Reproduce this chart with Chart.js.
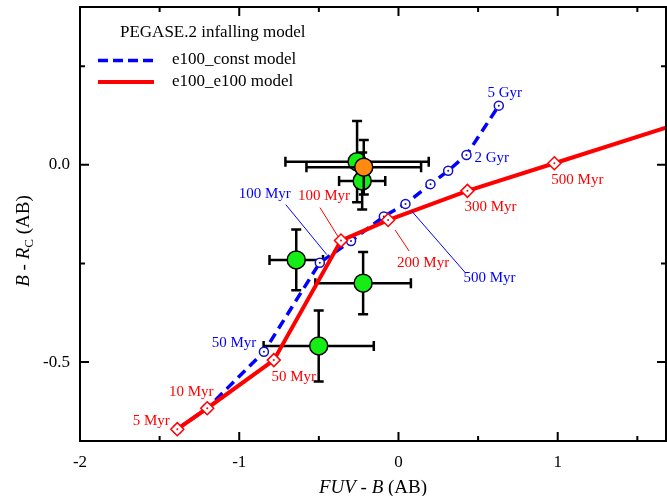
<!DOCTYPE html>
<html>
<head>
<meta charset="utf-8">
<script src="https://cdn.jsdelivr.net/npm/chart.js@4"></script>
<style>
  html, body { margin: 0; padding: 0; background: #fff; }
  #wrap { width: 667px; height: 496px; position: relative; }
</style>
</head>
<body>
<div id="wrap"><canvas id="c"></canvas></div>
<script>
// e100_const model track (blue dashed), 5 Myr ... 5 Gyr
const constFuvB = [-1.389, -1.201, -0.845, -0.494, -0.298, -0.092, 0.044, 0.201, 0.312, 0.427, 0.630];
const constBR   = [-0.670, -0.617, -0.474, -0.248, -0.193, -0.131, -0.099, -0.049, -0.015, 0.025, 0.150];

// e100_e100 model track (red solid), 5 Myr ... 500 Myr, then runs off the plot
const e100FuvB = [-1.389, -1.201, -0.783, -0.361, -0.065, 0.433, 0.979, 1.68];
const e100BR   = [-0.670, -0.617, -0.495, -0.192, -0.140, -0.066, 0.004, 0.094];

// observed objects (green)
const obsFuvB   = [-0.260, -0.228, -0.642, -0.222, -0.501];
const obsBR     = [0.008, -0.041, -0.241, -0.300, -0.459];
const obsFuvErr = [0.45, 0.145, 0.168, 0.30, 0.346];
const obsBRErr  = [0.103, 0.072, 0.077, 0.079, 0.090];

// highlighted object (orange)
const hiFuvB   = [-0.218];
const hiBR     = [-0.006];
const hiFuvErr = [0.36];
const hiBRErr  = [0.069];

// axes
const xTicks = [-2, -1.5, -1, -0.5, 0, 0.5, 1, 1.5];
const yTicks = [-0.5, -0.25, 0, 0.25];
const xMin = -2, xMax = 1.68, yMin = -0.7, yMax = 0.4;

// age labels along the tracks (index into the track)
const constAgeText = ['50 Myr', '100 Myr', '500 Myr', '2 Gyr', '5 Gyr'];
const constAgeIdx  = [2, 3, 6, 9, 10];
const e100AgeText  = ['5 Myr', '10 Myr', '50 Myr', '100 Myr', '200 Myr', '300 Myr', '500 Myr'];
const e100AgeIdx   = [0, 1, 2, 3, 4, 5, 6];

// pixel offsets of the age labels from their point (layout only)
const constLabelPos = [
  { dx: -30, dy: -9 },
  { dx: -55, dy: -69, lead: [-34, -58, 7, -8] },
  { dx: 84, dy: 74, lead: [6, 7, 60, 69] },
  { dx: 8, dy: 3, align: 'left' },
  { dx: 6, dy: -13 }
];
const e100LabelPos = [
  { dx: -26, dy: -8 },
  { dx: -16, dy: -16 },
  { dx: 20, dy: 17 },
  { dx: -17, dy: -45, lead: [-21, -33, -3, -4] },
  { dx: 35, dy: 43, lead: [7, 10, 21, 31] },
  { dx: 23, dy: 16 },
  { dx: 23, dy: 17 }
];

const SERIF = '"Liberation Serif", "Times New Roman", serif';
const BLUE = '#0000ff', RED = '#ff0000';

const toXY = (xs, ys) => xs.map((x, i) => ({ x: x, y: ys[i] }));

// no extra padding from tick labels, fixed axis sizes
const fixAxis = size => s => {
  if (s.isHorizontal()) s.height = size; else s.width = size;
  s.paddingTop = s.paddingBottom = s.paddingLeft = s.paddingRight = 0;
};

// error bars under each point set, dots in the centre of the model markers
const markers = {
  id: 'markers',
  beforeDatasetDraw(chart, args) {
    const ds = chart.data.datasets[args.index];
    if (!ds.xErr) return;
    const sx = chart.scales.x, sy = chart.scales.y, ctx = chart.ctx;
    ctx.save();
    ctx.strokeStyle = '#000';
    ctx.lineWidth = 2.5;
    ds.data.forEach((p, i) => {
      const cx = sx.getPixelForValue(p.x), cy = sy.getPixelForValue(p.y);
      const x0 = sx.getPixelForValue(p.x - ds.xErr[i]), x1 = sx.getPixelForValue(p.x + ds.xErr[i]);
      const y0 = sy.getPixelForValue(p.y + ds.yErr[i]), y1 = sy.getPixelForValue(p.y - ds.yErr[i]);
      ctx.beginPath();
      ctx.moveTo(x0, cy); ctx.lineTo(x1, cy);
      ctx.moveTo(cx, y0); ctx.lineTo(cx, y1);
      ctx.moveTo(x0, cy - 5); ctx.lineTo(x0, cy + 5);
      ctx.moveTo(x1, cy - 5); ctx.lineTo(x1, cy + 5);
      ctx.moveTo(cx - 5, y0); ctx.lineTo(cx + 5, y0);
      ctx.moveTo(cx - 5, y1); ctx.lineTo(cx + 5, y1);
      ctx.stroke();
    });
    ctx.restore();
  },
  afterDatasetDraw(chart, args) {
    const ds = chart.data.datasets[args.index];
    if (!ds.centerDot) return;
    const ctx = chart.ctx;
    ctx.save();
    ctx.fillStyle = ds.pointBorderColor;
    args.meta.data.forEach((el, i) => {
      const r = Array.isArray(ds.pointRadius) ? ds.pointRadius[i] : ds.pointRadius;
      if (!r) return;
      ctx.beginPath();
      ctx.arc(el.x, el.y, 1, 0, Math.PI * 2);
      ctx.fill();
    });
    ctx.restore();
  }
};

// frame with inward ticks, legend, age labels, axis titles
const decor = {
  id: 'decor',
  afterDraw(chart) {
    const ctx = chart.ctx, a = chart.chartArea;
    const sx = chart.scales.x, sy = chart.scales.y;
    ctx.save();

    // age labels
    const drawLabels = (dsIndex, texts, idx, pos, color) => {
      const meta = chart.getDatasetMeta(dsIndex);
      ctx.font = '15px ' + SERIF;
      ctx.fillStyle = color;
      ctx.strokeStyle = color;
      ctx.lineWidth = 1;
      ctx.textBaseline = 'middle';
      texts.forEach((t, k) => {
        const el = meta.data[idx[k]], p = pos[k];
        if (p.lead) {
          ctx.beginPath();
          ctx.moveTo(el.x + p.lead[0], el.y + p.lead[1]);
          ctx.lineTo(el.x + p.lead[2], el.y + p.lead[3]);
          ctx.stroke();
        }
        ctx.textAlign = p.align || 'center';
        ctx.fillText(t, el.x + p.dx, el.y + p.dy);
      });
    };
    drawLabels(1, constAgeText, constAgeIdx, constLabelPos, BLUE);
    drawLabels(0, e100AgeText, e100AgeIdx, e100LabelPos, RED);

    // frame
    ctx.strokeStyle = '#000';
    ctx.lineWidth = 2;
    ctx.strokeRect(a.left, a.top, a.right - a.left, a.bottom - a.top);
    ctx.beginPath();
    xTicks.forEach(v => {
      const px = sx.getPixelForValue(v), len = Number.isInteger(v) ? 9 : 5;
      ctx.moveTo(px, a.bottom); ctx.lineTo(px, a.bottom - len);
      ctx.moveTo(px, a.top); ctx.lineTo(px, a.top + len);
    });
    yTicks.forEach(v => {
      const py = sy.getPixelForValue(v), len = (v * 2) % 1 === 0 ? 9 : 5;
      ctx.moveTo(a.left, py); ctx.lineTo(a.left + len, py);
      ctx.moveTo(a.right, py); ctx.lineTo(a.right - len, py);
    });
    ctx.stroke();

    // legend
    const lx = a.left + 18, ly = a.top;
    ctx.font = '17px ' + SERIF;
    ctx.fillStyle = '#000';
    ctx.textAlign = 'left';
    ctx.textBaseline = 'middle';
    ctx.fillText('PEGASE.2 infalling model', a.left + 40, ly + 26);
    ctx.fillText('e100_const model', lx + 74, ly + 53);
    ctx.fillText('e100_e100 model', lx + 74, ly + 75);
    ctx.lineWidth = 3.5;
    ctx.strokeStyle = BLUE;
    ctx.setLineDash([10, 5]);
    ctx.beginPath(); ctx.moveTo(lx, ly + 53.5); ctx.lineTo(lx + 56, ly + 53.5); ctx.stroke();
    ctx.setLineDash([]);
    ctx.lineWidth = 4;
    ctx.strokeStyle = RED;
    ctx.beginPath(); ctx.moveTo(lx, ly + 75); ctx.lineTo(lx + 56, ly + 75); ctx.stroke();

    // axis titles with italic parts
    const runs = (parts, cx, cy) => {
      let w = 0;
      parts.forEach(p => { ctx.font = p.f; p.w = ctx.measureText(p.t).width; w += p.w; });
      let x = cx - w / 2;
      parts.forEach(p => { ctx.font = p.f; ctx.fillText(p.t, x, cy + (p.dy || 0)); x += p.w; });
    };
    ctx.fillStyle = '#000';
    ctx.textAlign = 'left';
    ctx.textBaseline = 'alphabetic';
    const it = 'italic 19px ' + SERIF, rg = '19px ' + SERIF, sm = '13px ' + SERIF;
    runs([{ t: 'FUV', f: it }, { t: ' - ', f: rg }, { t: 'B', f: it }, { t: ' (AB)', f: rg }],
      (a.left + a.right) / 2, 493);
    ctx.translate(29, (a.top + a.bottom) / 2 + 17);
    ctx.rotate(-Math.PI / 2);
    runs([{ t: 'B', f: it }, { t: ' - ', f: rg }, { t: 'R', f: it }, { t: 'C', f: sm, dy: 4 }, { t: ' (AB)', f: rg }], 0, 0);

    ctx.restore();
  }
};

new Chart(document.getElementById('c'), {
  type: 'scatter',
  data: {
    datasets: [
      {
        label: 'e100_e100 model',
        data: toXY(e100FuvB, e100BR),
        showLine: true,
        borderColor: RED,
        borderWidth: 4,
        pointStyle: 'rectRot',
        pointRadius: e100FuvB.map((v, i) => i < e100FuvB.length - 1 ? 6.5 : 0),
        pointBorderWidth: 1.5,
        pointBorderColor: RED,
        pointBackgroundColor: '#fff',
        centerDot: true,
        order: 1
      },
      {
        label: 'e100_const model',
        data: toXY(constFuvB, constBR),
        showLine: true,
        borderColor: BLUE,
        borderWidth: 3.5,
        borderDash: [10, 6],
        pointStyle: 'circle',
        pointRadius: 4.5,
        pointBorderWidth: 1.5,
        pointBorderColor: '#1010c8',
        pointBackgroundColor: '#fff',
        centerDot: true,
        order: 2
      },
      {
        label: 'highlighted',
        data: toXY(hiFuvB, hiBR),
        xErr: hiFuvErr,
        yErr: hiBRErr,
        pointRadius: 9,
        pointBorderWidth: 1.5,
        pointBorderColor: '#000',
        pointBackgroundColor: '#ff8a12',
        order: 3
      },
      {
        label: 'observed',
        data: toXY(obsFuvB, obsBR),
        xErr: obsFuvErr,
        yErr: obsBRErr,
        pointRadius: 9,
        pointBorderWidth: 1.5,
        pointBorderColor: '#000',
        pointBackgroundColor: '#14ee14',
        order: 4
      }
    ]
  },
  options: {
    responsive: true,
    maintainAspectRatio: false,
    animation: false,
    events: [],
    layout: { autoPadding: false, padding: { top: 7, right: 1, left: 0, bottom: 0 } },
    plugins: { legend: { display: false }, tooltip: { enabled: false } },
    scales: {
      x: {
        type: 'linear',
        min: xMin,
        max: xMax,
        grid: { display: false, drawTicks: false },
        border: { display: false },
        afterBuildTicks: s => { s.ticks = xTicks.map(v => ({ value: v })); },
        afterFit: fixAxis(55),
        ticks: {
          autoSkip: false,
          maxRotation: 0,
          padding: 11,
          color: '#000',
          font: { family: SERIF, size: 17 },
          callback: v => Number.isInteger(v) ? String(v) : ''
        }
      },
      y: {
        type: 'linear',
        min: yMin,
        max: yMax,
        grid: { display: false, drawTicks: false },
        border: { display: false },
        afterBuildTicks: s => { s.ticks = yTicks.map(v => ({ value: v })); },
        afterFit: fixAxis(80),
        ticks: {
          autoSkip: false,
          padding: 10,
          color: '#000',
          font: { family: SERIF, size: 17 },
          callback: v => (v * 2) % 1 === 0 ? v.toFixed(1) : ''
        }
      }
    }
  },
  plugins: [markers, decor]
});
</script>
</body>
</html>
